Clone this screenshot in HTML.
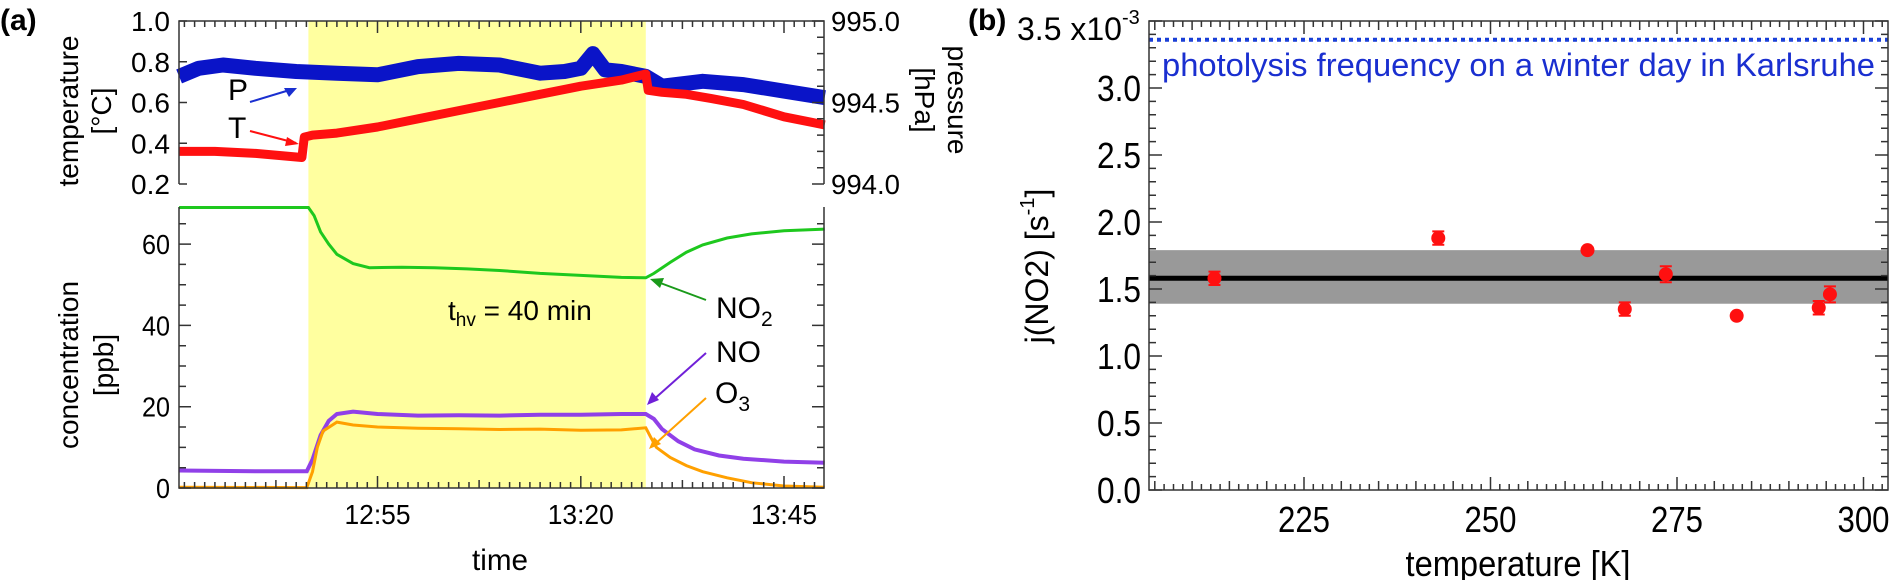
<!DOCTYPE html>
<html><head><meta charset="utf-8"><style>
body{margin:0;background:#fff}
svg{display:block;font-family:"Liberation Sans Narrow","Liberation Sans",sans-serif}
</style></head><body>
<svg id="fig" width="1894" height="580" viewBox="0 0 1894 580" xmlns="http://www.w3.org/2000/svg">
<g id="pa"></g>
<g id="pb"></g>
</svg>
<script>
// ---- Panel (a) data: time in minutes after 12:00 ----
const tT=[30.6,35,40,45.7,46,47,50,55,60,65,70,75,80,85,88,88.3,90,93,96,100,105,110];
const vT=[0.36,0.36,0.35,0.33,0.43,0.44,0.45,0.48,0.52,0.56,0.60,0.64,0.68,0.71,0.74,0.66,0.65,0.64,0.62,0.59,0.53,0.49];
const tP=[30.6,33,36,40,45,50,55,60,65,70,75,78,80,81.5,83,85,88,90,95,100,105,110];
const vP=[994.66,994.71,994.73,994.71,994.69,994.68,994.67,994.72,994.74,994.73,994.68,994.69,994.71,994.80,994.70,994.69,994.66,994.60,994.63,994.61,994.57,994.53];
const tNO2=[30.6,46.5,47.2,48,49,50,52,54,58,62,66,70,75,80,85,88,89,91,93,95,98,101,105,110];
const vNO2=[69,69,67,63,60,57.5,55.2,54.2,54.3,54.2,53.9,53.5,52.8,52.3,51.8,51.7,52.8,55.5,58,59.8,61.5,62.5,63.3,63.7];
const tNO=[30.6,40,46.3,47,48,49,50,52,55,60,65,70,75,80,85,88,89,90,92,94,97,100,105,110];
const vNO=[4.3,4.1,4.1,7,13,16.5,18.2,18.8,18.2,17.8,17.9,17.8,18,18,18.2,18.2,17,14.5,11.5,9.5,8,7.2,6.5,6.2];
const tO3=[30.6,46.3,47,47.6,48.3,50,52,55,60,65,70,75,80,85,88,88.6,89.3,91,93,95,98,101,105,110];
const vO3=[0.2,0.1,4,10,14,16.2,15.5,15,14.7,14.6,14.4,14.5,14.2,14.3,14.8,12.5,10,7.5,5.5,4,2.5,1.3,0.5,0.2];
const hvStart=46.5, hvEnd=88.0;
const timeTicks=[55,80,105];
const timeLabels=["12:55","13:20","13:45"];
const tempTicks=[0.2,0.4,0.6,0.8,1.0];
const tempLabels=["0.2","0.4","0.6","0.8","1.0"];
const presTicks=[994.0,994.5,995.0];
const presLabels=["994.0","994.5","995.0"];
const concTicks=[0,20,40,60];
const concLabels=["0","20","40","60"];
// ---- Panel (b) data ----
const tempK=[213,243,263,268,273.5,283,294,295.5];
const jNO2=[1.58,1.88,1.79,1.35,1.61,1.30,1.36,1.46];
const jErr=[0.05,0.05,0.02,0.05,0.06,0.02,0.05,0.06];
const jMean=[1.58];
const jBand=[1.39,1.79];
const jWinter=[3.36];
const kTicks=[225,250,275,300];
const kLabels=["225","250","275","300"];
const jTicks=[0,0.5,1,1.5,2,2.5,3,3.5];
const jLabels=["0.0","0.5","1.0","1.5","2.0","2.5","3.0","3.5 x10"];

const NS="http://www.w3.org/2000/svg";
function mk(parent,tag,attrs,text){const e=document.createElementNS(NS,tag);for(const k in attrs)e.setAttribute(k,attrs[k]);if(text!==undefined)e.textContent=text;parent.appendChild(e);return e;}
const pa=document.getElementById('pa'), pb=document.getElementById('pb');
const xA=t=>377.5+(t-55)*8.13;
const yT=v=>184-(v-0.2)*203.75;
const yP=p=>184-(p-994)*163;
const yC=c=>488-c*4.065;
const L=179,R=824;
function pathOf(ts,vs,fx,fy){return ts.map((t,i)=>(i?'L':'M')+fx(t).toFixed(1)+' '+fy(vs[i]).toFixed(1)).join(' ');}

let e=mk(pa,'rect',{x:xA(hvStart),y:21,width:xA(hvEnd)-xA(hvStart),height:467,fill:'#ffff9f'});


e=mk(pa,'path',{d:pathOf(tP,vP,xA,yP),fill:'none',stroke:'#0a14c8','stroke-width':15,'stroke-linejoin':'round'});


e=mk(pa,'path',{d:pathOf(tT,vT,xA,yT),fill:'none',stroke:'#ff1010','stroke-width':9,'stroke-linejoin':'round'});


e=mk(pa,'path',{d:pathOf(tNO2,vNO2,xA,yC),fill:'none',stroke:'#1ec81e','stroke-width':3});


e=mk(pa,'path',{d:pathOf(tNO,vNO,xA,yC),fill:'none',stroke:'#9040e8','stroke-width':4});


e=mk(pa,'path',{d:pathOf(tO3,vO3,xA,yC),fill:'none',stroke:'#ffa000','stroke-width':3});



const ax={stroke:'#333','stroke-width':1.5,fill:'none'};
e=mk(pa,'path',Object.assign({d:`M${L} 184 V21 H${R} V184`},ax));


e=mk(pa,'path',Object.assign({d:`M${L} 207 V488 H${R} V207`},ax));


let tk='';
for(let t=30;t<=110;t+=1.25){const x=xA(t);if(x<L||x>R)continue;const big=Math.abs(((t-55)%25+25)%25)<0.01;const mid=Math.abs(((t-55)%12.5+12.5)%12.5)<0.01;const h=big?12:(mid?8:6);tk+=`M${x.toFixed(1)} 21v${h}M${x.toFixed(1)} 488v-${h}`;}
for(let v=0.2;v<=1.001;v+=0.2){tk+=`M${L} ${yT(v).toFixed(1)}h8`;}
for(let p=994;p<=995.001;p+=0.1){const maj=Math.abs(p*2-Math.round(p*2))<0.01;tk+=`M${R} ${yP(p).toFixed(1)}h-${maj?12:7}`;}
for(let c=0;c<=69;c+=5){const maj=c%20===0;tk+=`M${L} ${yC(c).toFixed(1)}h${maj?12:7}M${R} ${yC(c).toFixed(1)}h-${maj?12:7}`;}
mk(pa,'path',{d:tk,stroke:'#333','stroke-width':1.5,fill:'none'});
tempTicks.forEach((v,i)=>{e=mk(pa,'text',{x:170,y:yT(v)+10,'font-size':28,'text-anchor':'end',textLength:tempLabels[i].length*13,lengthAdjust:'spacingAndGlyphs'},tempLabels[i]);

});
presTicks.forEach((v,i)=>{e=mk(pa,'text',{x:831,y:yP(v)+10,'font-size':28,textLength:69,lengthAdjust:'spacingAndGlyphs'},presLabels[i]);

});
concTicks.forEach((v,i)=>{e=mk(pa,'text',{x:170,y:yC(v)+10,'font-size':28,'text-anchor':'end',textLength:concLabels[i].length*14,lengthAdjust:'spacingAndGlyphs'},concLabels[i]);

});
timeTicks.forEach((t,i)=>{e=mk(pa,'text',{x:xA(t),y:524,'font-size':28,'text-anchor':'middle',textLength:66,lengthAdjust:'spacingAndGlyphs'},timeLabels[i]);

});
</script>
<script>
(function(){
const pa=document.getElementById('pa');
pa.insertAdjacentHTML('beforeend',`
<text x="0" y="30" font-size="30" font-weight="bold" font-family="Liberation Sans, sans-serif">(a)</text>
<text transform="translate(78,111) rotate(-90)" text-anchor="middle" font-size="28" font-family="Liberation Sans, sans-serif">temperature</text>
<text transform="translate(111,111) rotate(-90)" text-anchor="middle" font-size="28" font-family="Liberation Sans, sans-serif">[°C]</text>
<text transform="translate(78,365) rotate(-90)" text-anchor="middle" font-size="28" font-family="Liberation Sans, sans-serif">concentration</text>
<text transform="translate(113,365) rotate(-90)" text-anchor="middle" font-size="28" font-family="Liberation Sans, sans-serif">[ppb]</text>
<text transform="translate(948,100) rotate(90)" text-anchor="middle" font-size="28" font-family="Liberation Sans, sans-serif">pressure</text>
<text transform="translate(915,100) rotate(90)" text-anchor="middle" font-size="28" font-family="Liberation Sans, sans-serif">[hPa]</text>
<text x="500" y="570" text-anchor="middle" font-size="30" textLength="56" lengthAdjust="spacingAndGlyphs">time</text>
<text x="228" y="100" font-size="30">P</text>
<text x="228" y="138" font-size="30">T</text>
<path d="M250 102 L293 89" stroke="#1a2fd0" stroke-width="2"/>
<path d="M297 88 L284 88 L289 97Z" fill="#1a2fd0"/>
<path d="M250 131 L296 143" stroke="#ff1010" stroke-width="2"/>
<path d="M299 144 L287 137 L285 146Z" fill="#ff1010"/>
<text x="448" y="320" font-size="28">t<tspan font-size="19" dy="6">hv</tspan><tspan dy="-6"> = 40 min</tspan></text>
<text x="716" y="318" font-size="30">NO<tspan font-size="21" dy="8">2</tspan></text>
<text x="716" y="362" font-size="30">NO</text>
<text x="715" y="403" font-size="30">O<tspan font-size="21" dy="8">3</tspan></text>
<path d="M706 300 L655 281" stroke="#1a9a1a" stroke-width="2"/>
<path d="M650 279 L664 278 L660 288Z" fill="#1a9a1a"/>
<path d="M706 353 L652 401" stroke="#7020d8" stroke-width="2"/>
<path d="M647 405 L652 392 L659 400Z" fill="#7020d8"/>
<path d="M706 398 L654 445" stroke="#ffa000" stroke-width="2"/>
<path d="M649 449 L654 437 L661 444Z" fill="#ffa000"/>
`);
})();
</script>
<script>
(function(){
const pb=document.getElementById('pb');
const NS="http://www.w3.org/2000/svg";
function mk(parent,tag,attrs,text){const e=document.createElementNS(NS,tag);for(const k in attrs)e.setAttribute(k,attrs[k]);if(text!==undefined)e.textContent=text;parent.appendChild(e);return e;}
const xB=k=>1304+(k-225)*7.46, yB=j=>490-j*134;
const BL=1149,BR=1888,BT=21,BB=490;
let e=mk(pb,'rect',{x:BL,y:yB(jBand[1]),width:BR-BL,height:yB(jBand[0])-yB(jBand[1]),fill:'#999'});


e=mk(pb,'line',{x1:BL,x2:BR,y1:yB(jMean[0]),y2:yB(jMean[0]),stroke:'#000','stroke-width':5});


e=mk(pb,'line',{x1:BL,x2:BR,y1:yB(jWinter[0]),y2:yB(jWinter[0]),stroke:'#1a3fd6','stroke-width':4,'stroke-dasharray':'4 4'});


e=mk(pb,'text',{x:1162,y:76,'font-size':32,fill:'#1a2fd0',textLength:713,lengthAdjust:'spacingAndGlyphs'},'photolysis frequency on a winter day in Karlsruhe');


tempK.forEach((k,i)=>{
  const x=xB(k),y=yB(jNO2[i]),eu=yB(jNO2[i]+jErr[i]),ed=yB(jNO2[i]-jErr[i]);
  const g=mk(pb,'g',{});
  
  
  mk(g,'path',{d:`M${x} ${eu}V${ed}M${x-6} ${eu}h12M${x-6} ${ed}h12`,stroke:'#ff1010','stroke-width':2});
  mk(g,'ellipse',{cx:x,cy:y,rx:7,ry:7,fill:'#ff1010'});
});
e=mk(pb,'rect',{x:BL,y:BT,width:BR-BL,height:BB-BT,fill:'none',stroke:'#333','stroke-width':1.5});


let tk='';
for(let k=205;k<=303;k+=1.25){const x=xB(k);if(x<BL||x>BR)continue;const maj=Math.abs(k%25)<0.01;const mid=Math.abs(k%5)<0.01;const h=maj?13:(mid?9:6);tk+=`M${x.toFixed(1)} ${BB}v-${h}M${x.toFixed(1)} ${BT}v${h}`;}
for(let j=0;j<=3.5001;j+=0.1){const y=yB(j);const maj=Math.abs(j*2-Math.round(j*2))<0.01;const h=maj?13:7;tk+=`M${BL} ${y.toFixed(1)}h${h}M${BR} ${y.toFixed(1)}h-${h}`;}
mk(pb,'path',{d:tk,stroke:'#333','stroke-width':1.5,fill:'none'});
jTicks.forEach((j,i)=>{
  if(i===jTicks.length-1){e=mk(pb,'text',{x:1017,y:yB(j)+19,'font-size':32},jLabels[i]);
    mk(e,'tspan',{dy:-16,'font-size':20},'-3');}
  else e=mk(pb,'text',{x:1141,y:yB(j)+13,'font-size':36,'text-anchor':'end',textLength:44,lengthAdjust:'spacingAndGlyphs'},jLabels[i]);
  
  
});
kTicks.forEach((k,i)=>{e=mk(pb,'text',{x:xB(k),y:532,'font-size':36,'text-anchor':'middle',textLength:52,lengthAdjust:'spacingAndGlyphs'},kLabels[i]);
  
  });
pb.insertAdjacentHTML('beforeend',`
<text x="968" y="30" font-size="30" font-weight="bold" font-family="Liberation Sans, sans-serif">(b)</text>
<text transform="translate(1048,266) rotate(-90)" text-anchor="middle" font-size="32" font-family="Liberation Sans, sans-serif">j(NO2) [s<tspan font-size="20" dy="-14">-1</tspan><tspan dy="14">]</tspan></text>
<text x="1518" y="576" text-anchor="middle" font-size="36" textLength="225" lengthAdjust="spacingAndGlyphs">temperature [K]</text>
`);
})();
</script>
</body></html>
